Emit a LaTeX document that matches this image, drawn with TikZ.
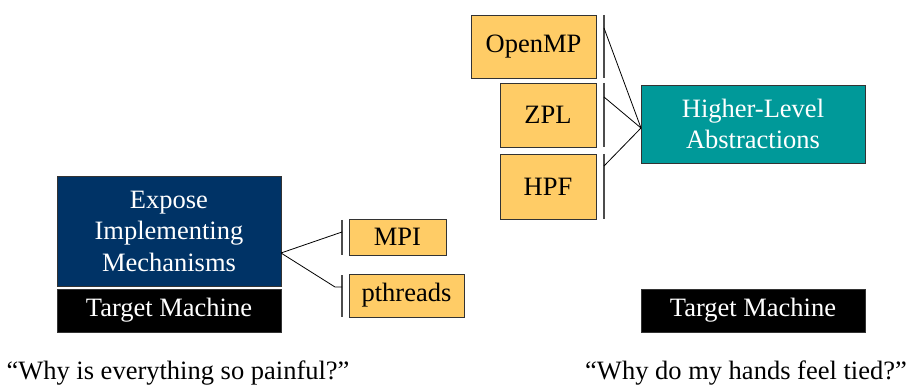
\documentclass[tikz,border=0pt]{standalone}
\usepackage{fontspec}
\setmainfont{Liberation Serif}
\usetikzlibrary{positioning}
\definecolor{boxorange}{HTML}{FFCC66}
\definecolor{boxteal}{HTML}{009999}
\definecolor{boxnavy}{HTML}{003366}
\begin{document}
\begin{tikzpicture}[x=1pt,y=-1pt]

\tikzset{lang/.style = {shape=rectangle,draw=black!80,line width=0.8pt,fill=boxorange,inner sep=0pt,font=\fontsize{26.5}{31.5}\selectfont}}
\tikzset{model/.style = {shape=rectangle,draw=black!80,line width=0.8pt,inner sep=0pt,text=white,align=center,minimum width=224pt,font=\fontsize{26.5}{31.5}\selectfont}}
\tikzset{edge/.style = {black,line width=0.8pt}}
\tikzset{bracket/.style = {black!70,line width=1.2pt}}
\useasboundingbox (0,0) rectangle (914,385);
%left side
\node[model, fill=boxnavy, minimum height=110pt] (expose) at (169,231) {Expose\\Implementing\\Mechanisms};
\node[model, fill=black, minimum height=43pt] (tmleft) at (169,310.5) {Target Machine};
\node[lang, minimum width=97pt, minimum height=36pt] (mpi) at (397.5,237) {MPI};
\node[lang, minimum width=115pt, minimum height=43pt] (pthreads) at (406.5,295.5) {pthreads};
\coordinate (lj) at (281,253);
\coordinate (mpitop) at (342,220);
\coordinate (mpibot) at (342,255);
\coordinate (pthtop) at (342,275);
\coordinate (pthbot) at (342,317);
\draw[bracket] (mpitop) -- (mpibot);
\draw[bracket] (pthtop) -- (pthbot);
\draw[edge] (lj) -- (342,232);
\draw[edge] (lj) -- (335,287) -- (342,287);
%right side
\node[lang, minimum width=125pt, minimum height=63pt] (openmp) at (533.5,46.5) {OpenMP};
\node[lang, minimum width=96pt, minimum height=64pt] (zpl) at (548,115) {ZPL};
\node[lang, minimum width=96pt, minimum height=65pt] (hpf) at (548,186.5) {HPF};
\node[model, fill=boxteal, minimum height=78pt] (abstr) at (753,124) {Higher-Level\\Abstractions};
\node[model, fill=black, minimum height=43pt] (tmright) at (753,310.5) {Target Machine};
\coordinate (rj) at (641,128);
\draw[bracket] (604,15) -- (604,78);
\draw[bracket] (604,83) -- (604,147);
\draw[bracket] (604,154) -- (604,219);
\draw[edge] (604,28) -- (rj);
\draw[edge] (604,97) -- (rj);
\draw[edge] (604,166) -- (rj);
%captions
\node[font=\fontsize{26.5}{31.5}\selectfont] (painful) at (178,373) {“Why is everything so painful?”};
\node[font=\fontsize{26.5}{31.5}\selectfont] (tied) at (746,373) {“Why do my hands feel tied?”};

\end{tikzpicture}
\end{document}
